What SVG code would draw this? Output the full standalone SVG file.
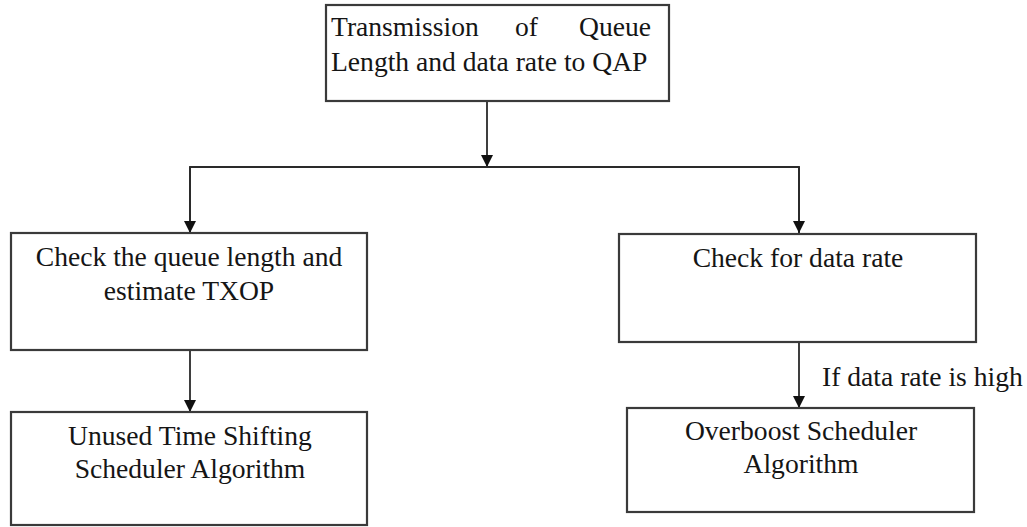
<svg xmlns="http://www.w3.org/2000/svg" width="1027" height="527" viewBox="0 0 1027 527">
  <defs>
    <marker id="arrow" viewBox="0 0 12 12" refX="12" refY="6" markerWidth="12" markerHeight="12" markerUnits="userSpaceOnUse" orient="auto">
      <path d="M0,0 L12,6 L0,12 Z" fill="#111"/>
    </marker>
    <style>
      .box { fill: #fff; stroke: #3a3a3a; stroke-width: 2.2; }
      .lbl { font-family: "Liberation Serif", "Times New Roman", serif; font-size: 27.6px; fill: #151515; }
      .mid { text-anchor: middle; }
      .edge { fill: none; stroke: #2a2a2a; stroke-width: 1.8; }
    </style>
  </defs>
  <rect width="1027" height="527" fill="#fff"/>

  <!-- connectors -->
  <g id="connectors">
    <line class="edge" x1="487" y1="101" x2="487" y2="167" marker-end="url(#arrow)"/>
    <polyline class="edge" points="190,233 190,167 799,167 799,233"/>
    <line class="edge" x1="190" y1="167" x2="190" y2="233" marker-end="url(#arrow)"/>
    <line class="edge" x1="799" y1="167" x2="799" y2="233" marker-end="url(#arrow)"/>
    <line class="edge" x1="190" y1="350" x2="190" y2="412" marker-end="url(#arrow)"/>
    <line class="edge" x1="799" y1="342" x2="799" y2="408" marker-end="url(#arrow)"/>
    <text class="lbl" x="822" y="386">If data rate is high</text>
  </g>

  <!-- top: transmission to QAP -->
  <g id="transmission">
    <rect class="box" x="326" y="5" width="343" height="96"/>
    <text class="lbl" x="331" y="36">Transmission</text>
    <text class="lbl" x="515" y="36">of</text>
    <text class="lbl" x="651" y="36" text-anchor="end">Queue</text>
    <text class="lbl" x="331" y="71">Length and data rate to QAP</text>
  </g>

  <!-- left branch -->
  <g id="check-queue">
    <rect class="box" x="11" y="233" width="356" height="117"/>
    <text class="lbl mid" x="189" y="266">Check the queue length and</text>
    <text class="lbl mid" x="189" y="300">estimate TXOP</text>
  </g>

  <g id="unused-time-shifting">
    <rect class="box" x="11" y="412" width="356" height="113"/>
    <text class="lbl mid" x="190" y="445">Unused Time Shifting</text>
    <text class="lbl mid" x="190" y="478">Scheduler Algorithm</text>
  </g>

  <!-- right branch -->
  <g id="check-rate">
    <rect class="box" x="619" y="234" width="357" height="108"/>
    <text class="lbl mid" x="798" y="267">Check for data rate</text>
  </g>

  <g id="overboost">
    <rect class="box" x="627" y="408" width="347" height="104"/>
    <text class="lbl mid" x="801" y="440">Overboost Scheduler</text>
    <text class="lbl mid" x="801" y="473">Algorithm</text>
  </g>
</svg>
